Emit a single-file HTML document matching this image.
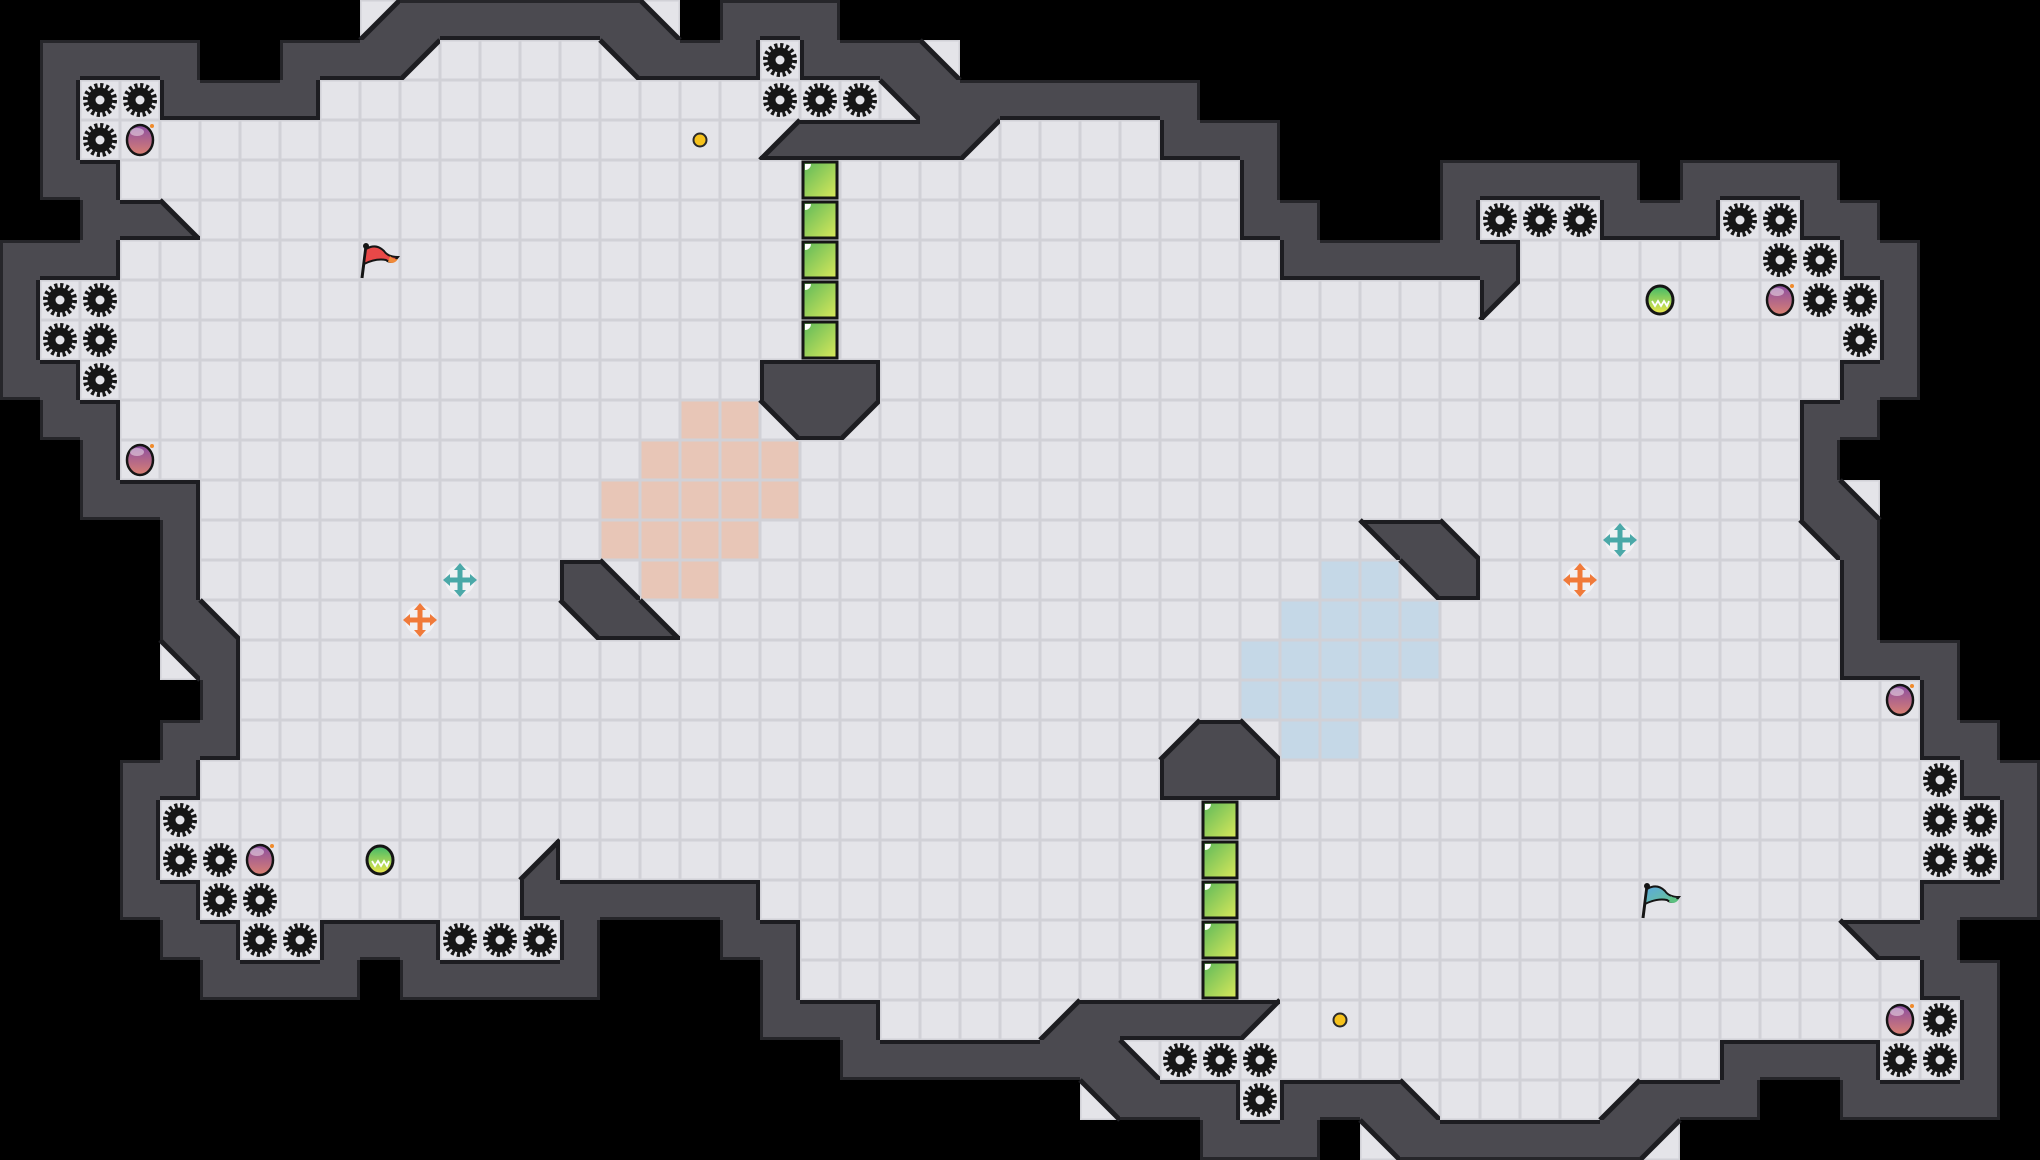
<!DOCTYPE html>
<html><head><meta charset="utf-8">
<style>
html,body{margin:0;padding:0;background:#000;}
#wrap{width:2040px;height:1160px;overflow:hidden;background:#000;}
</style></head>
<body><div id="wrap"><svg id="s" width="2040" height="1160" xmlns="http://www.w3.org/2000/svg"></svg></div>
<script>
function r(){var s='';for(var i=0;i<arguments.length;i+=2){s+=arguments[i].repeat(arguments[i+1]);}while(s.length<51)s+='.';return s.slice(0,51).split('');}
var G=[
r('.',9,'d',1,'#',6,'c',1,'.',1,'#',3,'.',30),
r('.',1,'#',4,'.',2,'#',3,'a',1,'o',4,'b',1,'#',3,'o',1,'#',3,'c',1,'.',27),
r('.',1,'#',1,'o',2,'#',4,'o',14,'b',1,'#',7,'.',21),
r('.',1,'#',1,'o',17,'d',1,'#',4,'a',1,'o',4,'#',3,'.',19),
r('.',1,'#',2,'o',28,'#',1,'.',4,'#',5,'.',1,'#',4,'.',5),
r('.',2,'#',2,'c',1,'o',26,'#',2,'.',3,'#',1,'o',3,'#',3,'o',2,'#',2,'.',4),
r('#',3,'o',29,'#',6,'o',8,'#',2,'.',3),
r('#',1,'o',36,'a',1,'o',9,'#',1,'.',3),
r('#',1,'o',46,'#',1,'.',3),
r('#',2,'o',44,'#',2,'.',3),
r('.',1,'#',2,'o',42,'#',2,'.',4),
r('.',2,'#',1,'o',42,'#',1,'.',5),
r('.',2,'#',3,'o',40,'#',1,'c',1,'.',4),
r('.',4,'#',1,'o',40,'b',1,'#',1,'.',4),
r('.',4,'#',1,'o',41,'#',1,'.',4),
r('.',4,'#',1,'c',1,'o',40,'#',1,'.',4),
r('.',4,'b',1,'#',1,'o',40,'#',3,'.',2),
r('.',5,'#',1,'o',42,'#',1,'.',2),
r('.',4,'#',2,'o',42,'#',2,'.',1),
r('.',3,'#',2,'o',44,'#',2),
r('.',3,'#',1,'o',46,'#',1),
r('.',3,'#',1,'o',9,'d',1,'o',36,'#',1),
r('.',3,'#',2,'o',8,'#',6,'o',29,'#',3),
r('.',4,'#',2,'o',2,'#',3,'o',3,'#',1,'.',3,'#',2,'o',26,'b',1,'#',2,'.',2),
r('.',5,'#',4,'.',1,'#',5,'.',4,'#',1,'o',28,'#',2,'.',1),
r('.',19,'#',3,'o',4,'d',1,'#',4,'a',1,'o',17,'#',1,'.',1),
r('.',21,'#',7,'c',1,'o',14,'#',4,'o',2,'#',1,'.',1),
r('.',27,'b',1,'#',3,'o',1,'#',3,'c',1,'o',4,'d',1,'#',3,'.',2,'#',4,'.',1),
r('.',30,'#',3,'.',1,'b',1,'#',6,'a',1,'.',9)
];
function set(rw,c,ch){G[rw][c]=ch;}
set(9,19,'#');set(9,20,'#');set(9,21,'#');
set(10,19,'b');set(10,20,'#');set(10,21,'a');
set(13,34,'b');set(13,35,'#');set(13,36,'c');
set(14,14,'#');set(14,15,'c');set(14,35,'b');set(14,36,'#');
set(15,14,'b');set(15,15,'#');set(15,16,'c');
set(18,29,'d');set(18,30,'#');set(18,31,'c');
set(19,29,'#');set(19,30,'#');set(19,31,'#');

var T=40,W='#4b4a50',O='#1d1d21',OB='#26262a',out=[];
var peach={10:[17,18],11:[16,17,18,19],12:[15,16,17,18,19],13:[15,16,17,18],14:[16,17]};
var blue={14:[33,34],15:[32,33,34,35],16:[31,32,33,34,35],17:[31,32,33,34],18:[32,33]};
out.push('<defs>'+
'<linearGradient id="gb" x1="0" y1="0" x2="1" y2="1"><stop offset="0" stop-color="#5cb85a"/><stop offset="1" stop-color="#dbe95a"/></linearGradient>'+
'<linearGradient id="bm" x1="0" y1="0" x2="0" y2="1"><stop offset="0" stop-color="#8a4da2"/><stop offset="1" stop-color="#d98072"/></linearGradient>'+
'<linearGradient id="gr" x1="0" y1="0" x2="0" y2="1"><stop offset="0" stop-color="#3fb86a"/><stop offset="1" stop-color="#f0ea4a"/></linearGradient>'+
'<linearGradient id="bf" x1="0" y1="0" x2="1" y2="1"><stop offset="0" stop-color="#5aa8e0"/><stop offset="1" stop-color="#6cc88a"/></linearGradient>'+
'</defs>');
function fillOf(rw,c){
  if(peach[rw]&&peach[rw].indexOf(c)>=0)return '#e8c6b7';
  if(blue[rw]&&blue[rw].indexOf(c)>=0)return '#c5d8e7';
  return '#e4e4e9';
}
for(var y=0;y<29;y++)for(var x=0;x<51;x++){
  var ch=G[y][x],X=x*T,Y=y*T;
  if(ch=='.')continue;
  if(ch=='#'){out.push('<rect x="'+X+'" y="'+Y+'" width="40" height="40" fill="'+W+'"/>');continue;}
  out.push('<rect x="'+(X+0.75)+'" y="'+(Y+0.75)+'" width="38.5" height="38.5" fill="'+fillOf(y,x)+'" stroke="#d1d1d7" stroke-width="1.5"/>');
  var p=null,l=null;
  if(ch=='a'){p=[X,Y,X+T,Y,X,Y+T];l=[X+T,Y,X,Y+T];}
  if(ch=='b'){p=[X,Y,X+T,Y,X+T,Y+T];l=[X,Y,X+T,Y+T];}
  if(ch=='c'){p=[X,Y,X,Y+T,X+T,Y+T];l=[X,Y,X+T,Y+T];}
  if(ch=='d'){p=[X+T,Y,X+T,Y+T,X,Y+T];l=[X+T,Y,X,Y+T];}
  if(p){out.push('<polygon points="'+p.join(',')+'" fill="'+W+'"/>');
    out.push('<line x1="'+l[0]+'" y1="'+l[1]+'" x2="'+l[2]+'" y2="'+l[3]+'" stroke="'+O+'" stroke-width="5"/>');}
}
var WE={'#':'tblr','a':'tl','b':'tr','c':'bl','d':'br'};
function g(y,x){if(y<0||y>28||x<0||x>50)return '.';return G[y][x];}
function isFloorEdge(y,x,side){var c=g(y,x);if(c=='.'||c=='#')return false;var w=WE[c]||'';return w.indexOf(side)<0;}
function isBlack(y,x){return g(y,x)=='.';}
for(var y=0;y<29;y++)for(var x=0;x<51;x++){
  var ch=G[y][x];var w=WE[ch];if(!w)continue;var X=x*T,Y=y*T;
  if(w.indexOf('t')>=0){if(isFloorEdge(y-1,x,'b'))out.push('<rect x="'+X+'" y="'+Y+'" width="40" height="4" fill="'+O+'"/>');else if(isBlack(y-1,x))out.push('<rect x="'+X+'" y="'+Y+'" width="40" height="3" fill="'+OB+'"/>');}
  if(w.indexOf('b')>=0){if(isFloorEdge(y+1,x,'t'))out.push('<rect x="'+X+'" y="'+(Y+36)+'" width="40" height="4" fill="'+O+'"/>');else if(isBlack(y+1,x))out.push('<rect x="'+X+'" y="'+(Y+37)+'" width="40" height="3" fill="'+OB+'"/>');}
  if(w.indexOf('l')>=0){if(isFloorEdge(y,x-1,'r'))out.push('<rect x="'+X+'" y="'+Y+'" width="4" height="40" fill="'+O+'"/>');else if(isBlack(y,x-1))out.push('<rect x="'+X+'" y="'+Y+'" width="3" height="40" fill="'+OB+'"/>');}
  if(w.indexOf('r')>=0){if(isFloorEdge(y,x+1,'l'))out.push('<rect x="'+(X+36)+'" y="'+Y+'" width="4" height="40" fill="'+O+'"/>');else if(isBlack(y,x+1))out.push('<rect x="'+(X+37)+'" y="'+Y+'" width="3" height="40" fill="'+OB+'"/>');}
}
function C(x){return x*T+20;}
function gear(x,y){var cx=C(x),cy=C(y);out.push('<circle cx="'+cx+'" cy="'+cy+'" r="14" fill="none" stroke="#161616" stroke-width="6" stroke-dasharray="3 2.5"/><circle cx="'+cx+'" cy="'+cy+'" r="12.5" fill="#161616"/><circle cx="'+cx+'" cy="'+cy+'" r="4.5" fill="#e4e4e9"/>');}
function bomb(x,y){var cx=C(x),cy=C(y);out.push('<ellipse cx="'+cx+'" cy="'+cy+'" rx="13" ry="15" fill="url(#bm)" stroke="#151515" stroke-width="2.5"/><ellipse cx="'+(cx-3)+'" cy="'+(cy-8)+'" rx="7" ry="4" fill="#fff" opacity="0.45"/><circle cx="'+(cx+12)+'" cy="'+(cy-14)+'" r="2" fill="#f08a2a"/>');}
function ball(x,y){var cx=C(x),cy=C(y);out.push('<ellipse cx="'+cx+'" cy="'+cy+'" rx="13" ry="14" fill="url(#gr)" stroke="#151515" stroke-width="3"/><path d="M'+(cx-8)+' '+(cy+1)+' l3 5 l3 -5 l3 5 l3 -5 l3 5 l2 -5" fill="none" stroke="#fff" stroke-width="1.8"/>');}
function block(x,y){var X=x*T,Y=y*T;out.push('<rect x="'+(X+3)+'" y="'+(Y+2)+'" width="34" height="36" fill="url(#gb)" stroke="#151515" stroke-width="3"/><path d="M'+(X+5)+' '+(Y+4)+' h6 a6 6 0 0 1 -6 6z" fill="#fff"/>');}
function dot(x,y){out.push('<circle cx="'+C(x)+'" cy="'+C(y)+'" r="6.5" fill="#f6c21c" stroke="#2a2a2a" stroke-width="2"/>');}
function cross(x,y,col){var cx=C(x),cy=C(y);out.push('<circle cx="'+cx+'" cy="'+cy+'" r="15" fill="#f4f4f6" opacity="0.8"/><g stroke="'+col+'" stroke-width="5" stroke-linecap="round"><line x1="'+(cx-11)+'" y1="'+cy+'" x2="'+(cx+11)+'" y2="'+cy+'"/><line x1="'+cx+'" y1="'+(cy-11)+'" x2="'+cx+'" y2="'+(cy+11)+'"/></g><g fill="'+col+'"><path d="M'+cx+' '+(cy-17)+' l-6 7 h12z"/><path d="M'+cx+' '+(cy+17)+' l-6 -7 h12z"/><path d="M'+(cx-17)+' '+cy+' l7 -6 v12z"/><path d="M'+(cx+17)+' '+cy+' l-7 -6 v12z"/></g>');}
function flag(px,py,f1,f2){out.push('<line x1="'+(px+4)+'" y1="'+(py-32)+'" x2="'+px+'" y2="'+py+'" stroke="#151515" stroke-width="3"/><circle cx="'+(px+4)+'" cy="'+(py-32)+'" r="3" fill="#151515"/><path d="M'+(px+4)+' '+(py-29)+' q10 -6 18 2 q4 6 14 6 q-6 8 -12 3 q-10 -2 -22 4z" fill="'+f1+'" stroke="#151515" stroke-width="2"/><path d="M'+(px+28)+' '+(py-22)+' q4 4 8 3 q-4 6 -10 3z" fill="'+f2+'"/>');}
[[19,1],[2,2],[3,2],[19,2],[20,2],[21,2],[2,3],[1,7],[2,7],[1,8],[2,8],[2,9],
 [37,5],[38,5],[39,5],[43,5],[44,5],[44,6],[45,6],[45,7],[46,7],[46,8],
 [4,20],[4,21],[5,21],[5,22],[6,22],[6,23],[7,23],[11,23],[12,23],[13,23],
 [29,26],[30,26],[31,26],[31,27],
 [48,19],[48,20],[49,20],[48,21],[49,21],[48,25],[47,26],[48,26]].forEach(function(a){gear(a[0],a[1]);});
[[3,3],[3,11],[44,7],[6,21],[47,17],[47,25]].forEach(function(a){bomb(a[0],a[1]);});
ball(41,7);ball(9,21);
for(var i=4;i<=8;i++)block(20,i);
for(var i=20;i<=24;i++)block(30,i);
dot(17,3);dot(33,25);
cross(11,14,'#4aa8a8');cross(10,15,'#f07a3a');cross(40,13,'#4aa8a8');cross(39,14,'#f07a3a');
flag(362,278,'#e84848','#f08a3a');
flag(1643,918,'url(#bf)','#5cc080');
document.getElementById('s').innerHTML=out.join('');
</script>
</body></html>
